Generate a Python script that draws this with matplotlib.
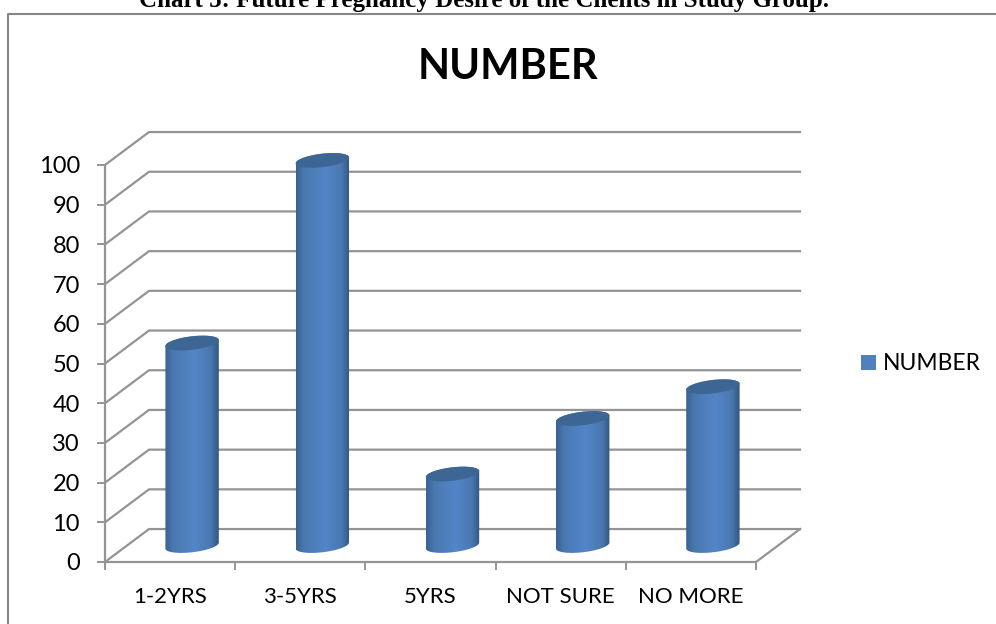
import numpy as np
import matplotlib
matplotlib.use("Agg")
import matplotlib.pyplot as plt
from matplotlib.colors import LinearSegmentedColormap
from matplotlib.lines import Line2D
from matplotlib.patches import Patch, PathPatch, Polygon
from matplotlib.path import Path

categories = ["1-2YRS", "3-5YRS", "5YRS", "NOT SURE", "NO MORE"]
values = [51, 97, 18, 32, 40]
y_ticks = [0, 10, 20, 30, 40, 50, 60, 70, 80, 90, 100]
series_name = "NUMBER"
header = "Chart 5: Future Pregnancy Desire of the Clients in Study Group."

W, H = 996, 624
GREY = "#949494"
FONT = "Lato"

# oblique depth of the fake 3d box, in data units
DEPTH_X = 0.338
DEPTH_Y = 8.3
HALF_W = 0.205
CAP_B = 1.7
CAP_TILT = 0.75

plt.rcParams["font.family"] = FONT

fig = plt.figure(figsize=(W / 100, H / 100), dpi=100, facecolor="white")
# front of the box: x 105..756 px, y 562 up, 3.97 px per unit
ax = fig.add_axes([105 / W, (H - 562) / H, 703 / W, 496 / H])
ax.patch.set_alpha(0)

for v in y_ticks:
    ax.plot([0, DEPTH_X, len(categories) + DEPTH_X], [v, v + DEPTH_Y, v + DEPTH_Y],
            color=GREY, lw=1.6, solid_joinstyle="miter", zorder=1)
ax.plot([len(categories), len(categories) + DEPTH_X], [0, DEPTH_Y], color=GREY, lw=1.6, zorder=1)

side_cmap = LinearSegmentedColormap.from_list(
    "side", [(0, "#3a6291"), (0.15, "#4a78b0"), (0.55, "#5386c8"), (0.85, "#4a78b0"), (1, "#305682")])
gradient = np.linspace(0, 1, 200).reshape(1, -1)
t = np.linspace(0, 2 * np.pi, 121)

for i, v in enumerate(values):
    cx = i + 0.5 + DEPTH_X / 2
    y0 = DEPTH_Y / 2
    y1 = v + DEPTH_Y / 2
    ex = HALF_W * np.cos(t)
    ey = CAP_TILT * np.cos(t) + CAP_B * np.sin(t)
    low = t[60:]
    top = t[:61]
    # outline of the cylinder side: lower half of the base, upper half of the cap
    side_x = np.r_[cx + HALF_W * np.cos(low), cx + HALF_W * np.cos(top)]
    side_y = np.r_[y0 + CAP_TILT * np.cos(low) + CAP_B * np.sin(low),
                   y1 + CAP_TILT * np.cos(top) + CAP_B * np.sin(top)]
    clip = PathPatch(Path(np.c_[side_x, side_y]), transform=ax.transData, fc="none", ec="none")
    ax.add_patch(clip)
    im = ax.imshow(gradient, extent=[cx - HALF_W, cx + HALF_W, 0, v + DEPTH_Y + 3],
                   cmap=side_cmap, aspect="auto", zorder=3, interpolation="bilinear")
    im.set_clip_path(clip)
    ax.add_patch(Polygon(np.c_[cx + ex, y1 + ey], closed=True, fc="#3d6694", ec="none", zorder=4))

ax.set_xlim(0, 703 / 130.2)
ax.set_ylim(0, 496 / 3.97)

for side in ["top", "right"]:
    ax.spines[side].set_visible(False)
for side in ["left", "bottom"]:
    ax.spines[side].set_color(GREY)
    ax.spines[side].set_linewidth(1.6)
ax.spines["left"].set_bounds(0, 100)
ax.spines["bottom"].set_bounds(0, len(categories))

ax.set_yticks(y_ticks)
ax.set_xticks(np.arange(len(categories) + 1))
ax.set_xticklabels([])
ax.set_xticks(np.arange(len(categories)) + 0.5, labels=categories, minor=True)
ax.tick_params(axis="y", length=6, width=1.4, color=GREY, labelsize=17, pad=12, labelcolor="black")
ax.tick_params(axis="x", which="major", length=6, width=1.4, color=GREY)
ax.tick_params(axis="x", which="minor", length=0, labelsize=16, pad=18, labelcolor="black")

fig.text(508 / W, 1 - 79 / H, series_name, ha="center", va="baseline",
         fontsize=30, fontweight="bold", color="black")
fig.text(484 / W, 1 - 7 / H, header, ha="center", va="baseline",
         fontsize=18, fontweight="bold", family="Liberation Serif", color="black")

ax.legend(handles=[Patch(fc="#4f81bd", ec="none", label=series_name)],
          loc="center left", bbox_to_anchor=(840 / W, 1 - 364 / H), bbox_transform=fig.transFigure,
          frameon=False, fontsize=16.5, handlelength=0.65, handleheight=0.65, handletextpad=0.3,
          borderpad=0.4)

# border of the chart frame, right and bottom fall outside the crop
fig.add_artist(Line2D([8 / W, 8 / W, 1], [0, 1 - 13.5 / H, 1 - 13.5 / H],
                      transform=fig.transFigure, color="#868686", lw=1.5))

fig.savefig("out.png", dpi=100)
